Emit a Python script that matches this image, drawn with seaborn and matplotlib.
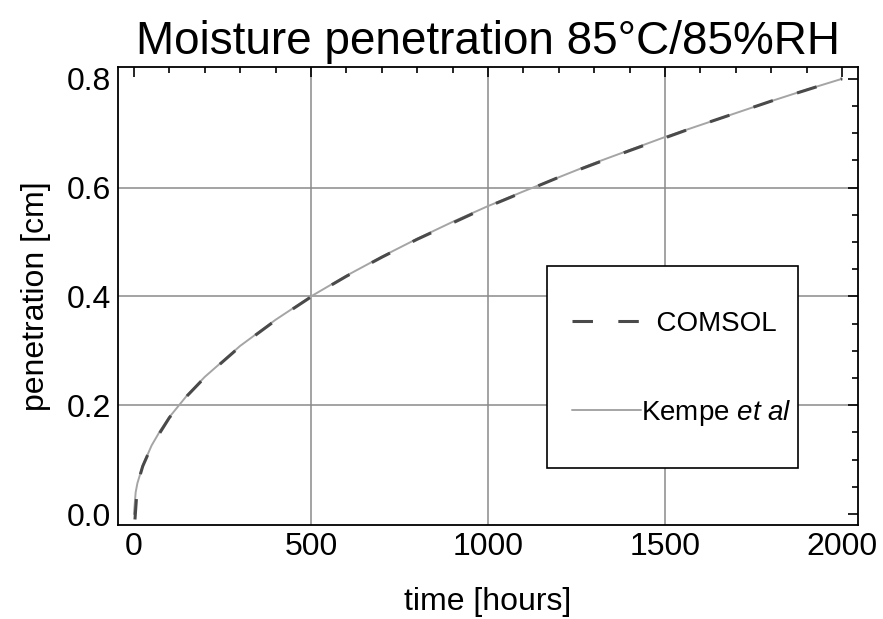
import numpy as np
import pandas as pd
import matplotlib
matplotlib.use("Agg")
import matplotlib.pyplot as plt
from matplotlib.patches import Rectangle
from matplotlib.ticker import MultipleLocator, FormatStrFormatter
import seaborn as sns

# Data ----------------------------------------------------------------
time_kempe = [0, 5, 10, 25, 50, 75, 100, 150, 200, 300, 400, 500, 600, 700,
              800, 900, 1000, 1100, 1200, 1300, 1400, 1500, 1600, 1700, 1800,
              1900, 2000]
pen_kempe = [0.0, 0.04, 0.057, 0.089, 0.126, 0.154, 0.178, 0.218, 0.252,
             0.309, 0.357, 0.400, 0.438, 0.473, 0.506, 0.537, 0.566, 0.593,
             0.619, 0.645, 0.669, 0.693, 0.715, 0.737, 0.759, 0.780, 0.800]

time_comsol = [3, 10, 25, 50, 100, 150, 200, 300, 400, 500, 600, 700, 800,
               1000, 1200, 1400, 1600, 1800, 2000]
pen_comsol = [-0.01, 0.055, 0.088, 0.125, 0.177, 0.217, 0.251, 0.308, 0.356,
              0.399, 0.437, 0.472, 0.505, 0.565, 0.619, 0.668, 0.715, 0.759,
              0.800]

df = pd.concat([
    pd.DataFrame({"time": time_kempe, "pen": pen_kempe, "model": "Kempe"}),
    pd.DataFrame({"time": time_comsol, "pen": pen_comsol, "model": "COMSOL"}),
])

# Plot ------------------------------------------------------------------
sns.set_style("white")
plt.rcParams["font.family"] = ["Liberation Sans", "DejaVu Sans"]
plt.rcParams["mathtext.fontset"] = "custom"
plt.rcParams["mathtext.rm"] = "Liberation Sans"
plt.rcParams["mathtext.it"] = "Liberation Sans:italic"
plt.rcParams["text.color"] = "black"
plt.rcParams["axes.labelcolor"] = "black"
plt.rcParams["xtick.color"] = "black"
plt.rcParams["ytick.color"] = "black"

fig = plt.figure(figsize=(8.83, 6.19), dpi=100)
ax = fig.add_axes([0.1336, 0.152, 0.838, 0.740])

# grid lines only inside the frame
for gx in [500, 1000, 1500]:
    ax.axvline(gx, color="#8a8a8a", lw=1.1, zorder=0)
for gy in [0.2, 0.4, 0.6]:
    ax.axhline(gy, color="#8a8a8a", lw=1.1, zorder=0)

sns.lineplot(data=df[df["model"] == "Kempe"], x="time", y="pen",
             color="#a5a5a5", lw=1.4, ax=ax, label="Kempe $\\it{et\\ al}$",
             zorder=2)
sns.lineplot(data=df[df["model"] == "COMSOL"], x="time", y="pen",
             color="#4a4a4a", lw=2.2, ax=ax, label="  COMSOL", zorder=3)
ax.get_lines()[-1].set_linestyle((0, (6.7, 8.3)))

ax.set_xlim(-45, 2045)
ax.set_ylim(-0.02, 0.822)
ax.xaxis.set_major_locator(MultipleLocator(500))
ax.xaxis.set_minor_locator(MultipleLocator(100))
ax.yaxis.set_major_locator(MultipleLocator(0.2))
ax.yaxis.set_minor_locator(MultipleLocator(0.05))
ax.yaxis.set_major_formatter(FormatStrFormatter("%.1f"))
ax.tick_params(which="both", direction="in", top=True, right=True,
               color="black", width=1.2)
ax.tick_params(which="major", length=7, labelsize=23, pad=5)
ax.tick_params(which="minor", length=4)
for s in ax.spines.values():
    s.set_color("black")
    s.set_linewidth(1.3)

ax.set_xlabel("time [hours]", fontsize=23, labelpad=18)
ax.set_ylabel("penetration [cm]", fontsize=23, labelpad=11)
ax.set_title("Moisture penetration 85°C/85%RH", fontsize=33, pad=9)

# legend box
ax.add_patch(Rectangle((0.5797, 0.1245), 0.339, 0.441, transform=ax.transAxes,
                       facecolor="white", edgecolor="black", lw=1.2,
                       zorder=4))
h, lab = ax.get_legend_handles_labels()
leg = ax.legend(h[::-1], lab[::-1], loc="upper left",
                bbox_to_anchor=(0.6135, 0.467), fontsize=20,
                frameon=False, handlelength=2.5, handletextpad=0.0,
                labelspacing=2.2, borderpad=0, borderaxespad=0)
leg.set_zorder(5)

fig.savefig("out.png", dpi=100)
